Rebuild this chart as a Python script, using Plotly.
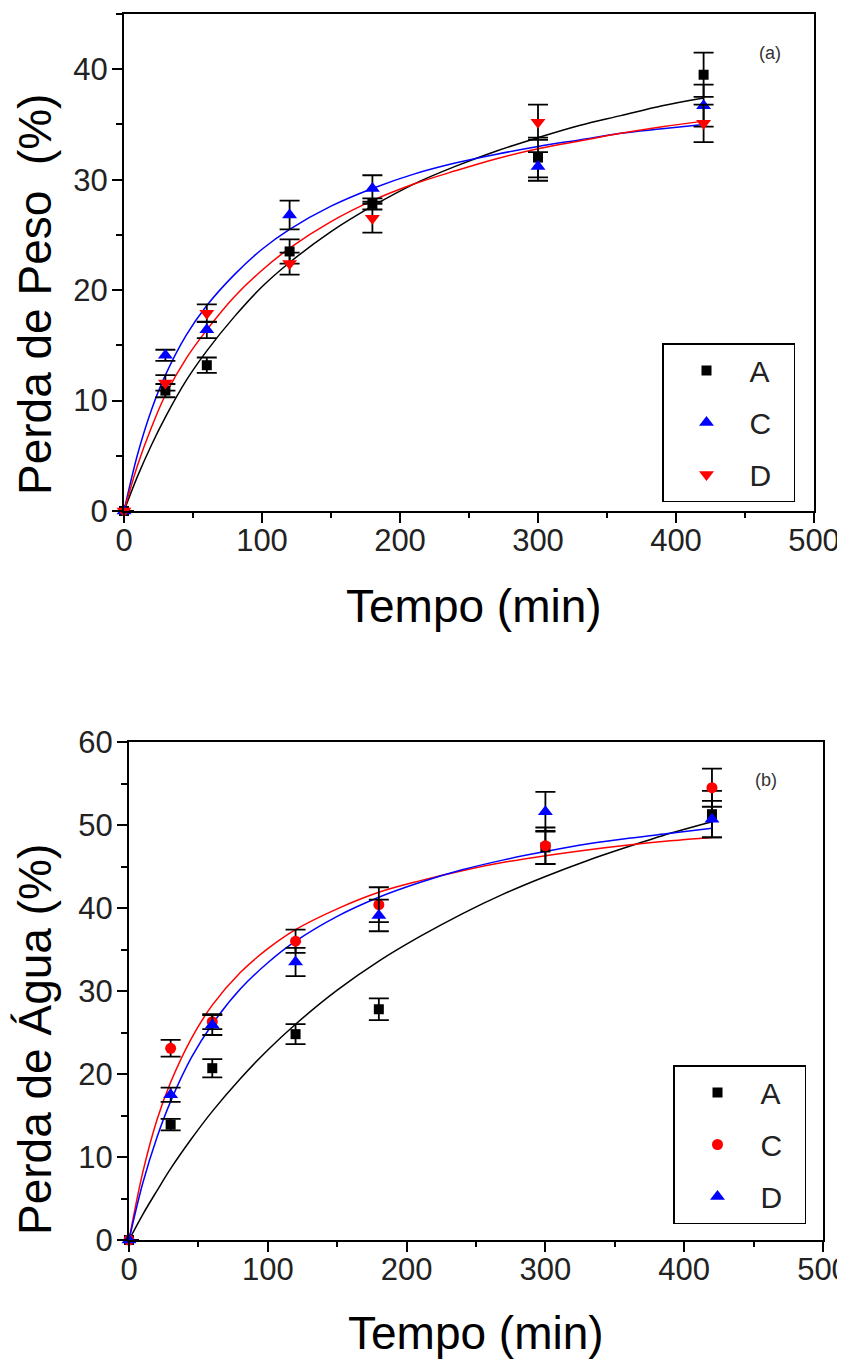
import plotly.graph_objects as go

# ---------------- data ----------------
time_pts = [0, 30, 60, 120, 180, 300, 420]

# panel (a): Perda de Peso (%)
peso_A = [0, 10.9, 13.2, 23.5, 27.8, 32.0, 39.5]
peso_A_err = [0, 0.6, 0.7, 1.1, 0.5, 1.8, 2.0]
peso_C = [0, 14.1, 16.4, 26.8, 29.2, 31.2, 36.7]
peso_C_err = [0, 0.5, 0.75, 1.3, 1.2, 1.3, 1.9]
peso_D = [0, 11.6, 17.9, 22.4, 26.5, 35.2, 35.1]
peso_D_err = [0, 0.7, 0.8, 1.0, 1.3, 1.6, 1.7]

# panel (b): Perda de Agua (%)
agua_A = [0, 13.9, 20.7, 24.8, 27.8, 47.3, 51.3]
agua_A_err = [0, 0.7, 1.1, 1.2, 1.3, 2.0, 2.8]
agua_C = [0, 23.1, 26.3, 36.0, 40.4, 47.5, 54.5]
agua_C_err = [0, 1.0, 0.9, 1.4, 2.1, 2.2, 2.3]
agua_D = [0, 17.5, 25.9, 33.5, 39.1, 51.6, 50.7]
agua_D_err = [0, 0.85, 1.2, 1.7, 1.9, 2.4, 2.2]

# fitted curves
fit_t = [0, 10, 20, 30, 45, 60, 80, 100, 120, 150, 180, 210, 240, 270, 300, 330, 360, 390, 420]
peso_fit_A = [0, 3.2, 6.0, 8.5, 11.8, 14.5, 17.6, 20.3, 22.5, 25.3, 27.6, 29.6, 31.2, 32.6, 33.8, 34.9, 35.8, 36.7, 37.4]
peso_fit_C = [0, 5.2, 9.2, 12.3, 15.9, 18.6, 21.4, 23.7, 25.5, 27.6, 29.2, 30.5, 31.5, 32.3, 33.0, 33.6, 34.2, 34.6, 35.0]
peso_fit_D = [0, 4.2, 7.6, 10.5, 13.8, 16.4, 19.4, 21.8, 23.8, 26.2, 28.1, 29.6, 30.8, 31.9, 32.8, 33.5, 34.2, 34.8, 35.3]
agua_fit_A = [0, 3.1, 5.9, 8.6, 12.2, 15.5, 19.4, 22.9, 26.0, 30.1, 33.6, 36.6, 39.3, 41.7, 43.8, 45.7, 47.4, 49.0, 50.4]
agua_fit_C = [0, 8.2, 14.4, 19.0, 24.3, 28.3, 32.2, 35.1, 37.4, 39.9, 41.9, 43.3, 44.5, 45.5, 46.3, 47.0, 47.6, 48.1, 48.5]
agua_fit_D = [0, 6.9, 12.3, 16.7, 22.0, 26.0, 30.2, 33.4, 36.0, 39.0, 41.3, 43.1, 44.6, 45.8, 46.8, 47.7, 48.4, 49.0, 49.6]

series_names = ["A", "C", "D"]

BLACK = "#000000"
BLUE = "#0000FF"
RED = "#FF0000"
FONT = "Liberation Sans, Arial, sans-serif"

# page body has an 8px margin, so the figure is drawn at (8, 8)
OFF = 8
W, H = 845 - OFF, 1360 - OFF


def px_x(x):
    return (x - OFF) / W


def px_y(y):
    return 1 - (y - OFF) / H


fig = go.Figure()

# ---------------- panel (a) ----------------
for ys, col in [(peso_fit_A, BLACK), (peso_fit_C, BLUE), (peso_fit_D, RED)]:
    fig.add_trace(go.Scatter(x=fit_t, y=ys, mode="lines", line=dict(color=col, width=1.5, shape="spline"),
                             showlegend=False, hoverinfo="skip", xaxis="x", yaxis="y"))

err_style = dict(type="data", color=BLACK, thickness=1.8, width=10)
for name, ys, err, sym, col, size in [
    ("A", peso_A, peso_A_err, "square", BLACK, 10),
    ("C", peso_C, peso_C_err, "triangle-up", BLUE, 13),
    ("D", peso_D, peso_D_err, "triangle-down", RED, 13),
]:
    nm = name + "\u00a0\u00a0"
    fig.add_trace(go.Scatter(x=time_pts, y=ys, mode="markers", name=nm,
                             marker=dict(symbol=sym, color=col, size=size, line=dict(width=0)),
                             error_y=dict(array=err, **err_style), cliponaxis=False,
                             legend="legend", legendgroup="a" + name, xaxis="x", yaxis="y"))

# ---------------- panel (b) ----------------
for ys, col in [(agua_fit_A, BLACK), (agua_fit_C, RED), (agua_fit_D, BLUE)]:
    fig.add_trace(go.Scatter(x=fit_t, y=ys, mode="lines", line=dict(color=col, width=1.5, shape="spline"),
                             showlegend=False, hoverinfo="skip", xaxis="x2", yaxis="y2"))

for name, ys, err, sym, col, size in [
    ("A", agua_A, agua_A_err, "square", BLACK, 10),
    ("C", agua_C, agua_C_err, "circle", RED, 11),
    ("D", agua_D, agua_D_err, "triangle-up", BLUE, 13),
]:
    nm = name + "\u00a0\u00a0"
    fig.add_trace(go.Scatter(x=time_pts, y=ys, mode="markers", name=nm,
                             marker=dict(symbol=sym, color=col, size=size, line=dict(width=0)),
                             error_y=dict(array=err, **err_style), cliponaxis=False,
                             legend="legend2", legendgroup="b" + name, xaxis="x2", yaxis="y2"))

# ---------------- axes ----------------
tickfont = dict(family=FONT, size=31, color="#222222")
top_xd = [px_x(124), px_x(814)]
top_yd = [px_y(511), px_y(14)]
bot_xd = [px_x(129), px_x(823)]
bot_yd = [px_y(1240), px_y(742)]


def main_x(domain, anchor):
    return dict(domain=domain, anchor=anchor, range=[0, 500], dtick=100, tick0=0,
                ticks="outside", ticklen=10, tickwidth=1.5, tickcolor=BLACK,
                minor=dict(dtick=50, ticks="outside", ticklen=5, tickwidth=1.5, tickcolor=BLACK),
                showline=True, linecolor=BLACK, linewidth=2, mirror=True, automargin=False,
                ticklabeloverflow="allow",
                showgrid=False, zeroline=False, tickfont=tickfont, ticklabelstandoff=-9)


def main_y(domain, anchor, rng):
    return dict(domain=domain, anchor=anchor, range=rng, dtick=10, tick0=0,
                ticks="outside", ticklen=10, tickwidth=1.5, tickcolor=BLACK,
                minor=dict(dtick=5, ticks="outside", ticklen=6, tickwidth=1.5, tickcolor=BLACK),
                showline=True, linecolor=BLACK, linewidth=2, mirror=True, automargin=False,
                ticklabeloverflow="allow",
                showgrid=False, zeroline=False, tickfont=tickfont, ticklabelstandoff=-2)


def mirror_x(over, anchor):
    return dict(overlaying=over, anchor=anchor, side="top", range=[0, 500], dtick=50, tick0=0,
                ticks="inside", ticklen=7, tickwidth=1.5, tickcolor=BLACK, automargin=False,
                showticklabels=False, showline=False, showgrid=False, zeroline=False)


def mirror_y(over, anchor, rng):
    return dict(overlaying=over, anchor=anchor, side="right", range=rng, dtick=5, tick0=0,
                ticks="inside", ticklen=7, tickwidth=1.5, tickcolor=BLACK, automargin=False,
                showticklabels=False, showline=False, showgrid=False, zeroline=False)


legend_common = dict(font=dict(family=FONT, size=30, color="#222222"), bgcolor="white",
                     bordercolor=BLACK, borderwidth=1.5, xanchor="left", yanchor="top",
                     tracegroupgap=10, itemwidth=76)

fig.update_layout(
    width=W, height=H, margin=dict(l=0, r=0, t=0, b=0, autoexpand=False),
    paper_bgcolor="white", plot_bgcolor="white",
    xaxis=main_x(top_xd, "y"), yaxis=main_y(top_yd, "x", [0, 45]),
    xaxis3=mirror_x("x", "y"), yaxis3=mirror_y("y", "x", [0, 45]),
    xaxis2=main_x(bot_xd, "y2"), yaxis2=main_y(bot_yd, "x2", [0, 60]),
    xaxis4=mirror_x("x2", "y2"), yaxis4=mirror_y("y2", "x2", [0, 60]),
    legend=dict(x=px_x(662), y=px_y(343), **legend_common),
    legend2=dict(x=px_x(673), y=px_y(1065), **legend_common),
    showlegend=True,
)

title_font_x = dict(family=FONT, size=46, color=BLACK)
title_font_y = dict(family=FONT, size=46, color=BLACK)
annos = [
    dict(text="Tempo (min)", x=px_x(474), y=px_y(606), font=title_font_x),
    dict(text="Tempo (min)", x=px_x(476), y=px_y(1333), font=title_font_x),
    dict(text="Perda de Peso\u00a0\u00a0(%)", x=px_x(35), y=px_y(295), font=title_font_y, textangle=-90),
    dict(text="Perda de Água (%)", x=px_x(35), y=px_y(1040), font=title_font_y, textangle=-90),
    dict(text="(a)", x=px_x(770), y=px_y(53), font=dict(family=FONT, size=18, color="#333333")),
    dict(text="(b)", x=px_x(766), y=px_y(780), font=dict(family=FONT, size=18, color="#333333")),
]
for a in annos:
    fig.add_annotation(xref="paper", yref="paper", showarrow=False, xanchor="center", yanchor="middle", **a)

fig.write_html("out.html")
